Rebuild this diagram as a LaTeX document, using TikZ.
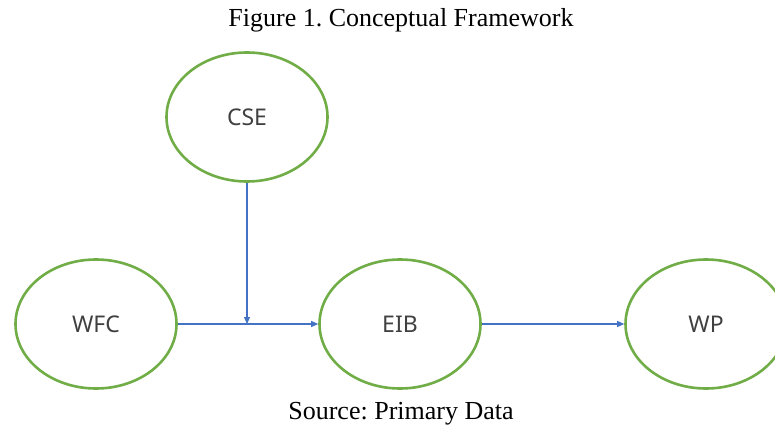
\documentclass[tikz,border=0pt]{standalone}
\usepackage{fontspec}
\setmainfont{Liberation Serif}
\newfontfamily\labelfont{Noto Sans}
\usetikzlibrary{shapes.geometric,arrows.meta}
\definecolor{ellgreen}{HTML}{70AD47}
\definecolor{arrblue}{HTML}{4472C4}
\definecolor{txtgray}{HTML}{404040}
\frenchspacing
\begin{document}
\begin{tikzpicture}[x=1pt,y=1pt,
  ell/.style={ellipse,draw=ellgreen,line width=2.6pt,minimum width=161pt,minimum height=129pt,inner sep=0pt,
    font=\labelfont\fontsize{23}{27}\selectfont,text=txtgray},
  conn/.style={draw=arrblue,line width=1.1pt,-{Triangle[length=7pt,width=6pt]}},
  captext/.style={font=\fontsize{26}{30}\selectfont,inner sep=0pt}]
\useasboundingbox (0,0) rectangle (775,426);
\node[ell] (cse) at (247,309) {CSE};
\node[ell] (wfc) at (96,102) {WFC};
\node[ell] (eib) at (400,102) {EIB};
\node[ell] (wp) at (706,102) {WP};
\node[captext,anchor=base] (title) at (401,399) {Figure 1. Conceptual Framework};
\node[captext,anchor=base] (src) at (401,6.5) {Source: Primary Data};
\coordinate (join) at (cse.south |- wfc.east);
\draw[conn] (wfc.east) -- (eib.west);
\draw[conn] (cse.south) -- (join);
\draw[conn] (eib.east) -- (wp.west);
\end{tikzpicture}
\end{document}
